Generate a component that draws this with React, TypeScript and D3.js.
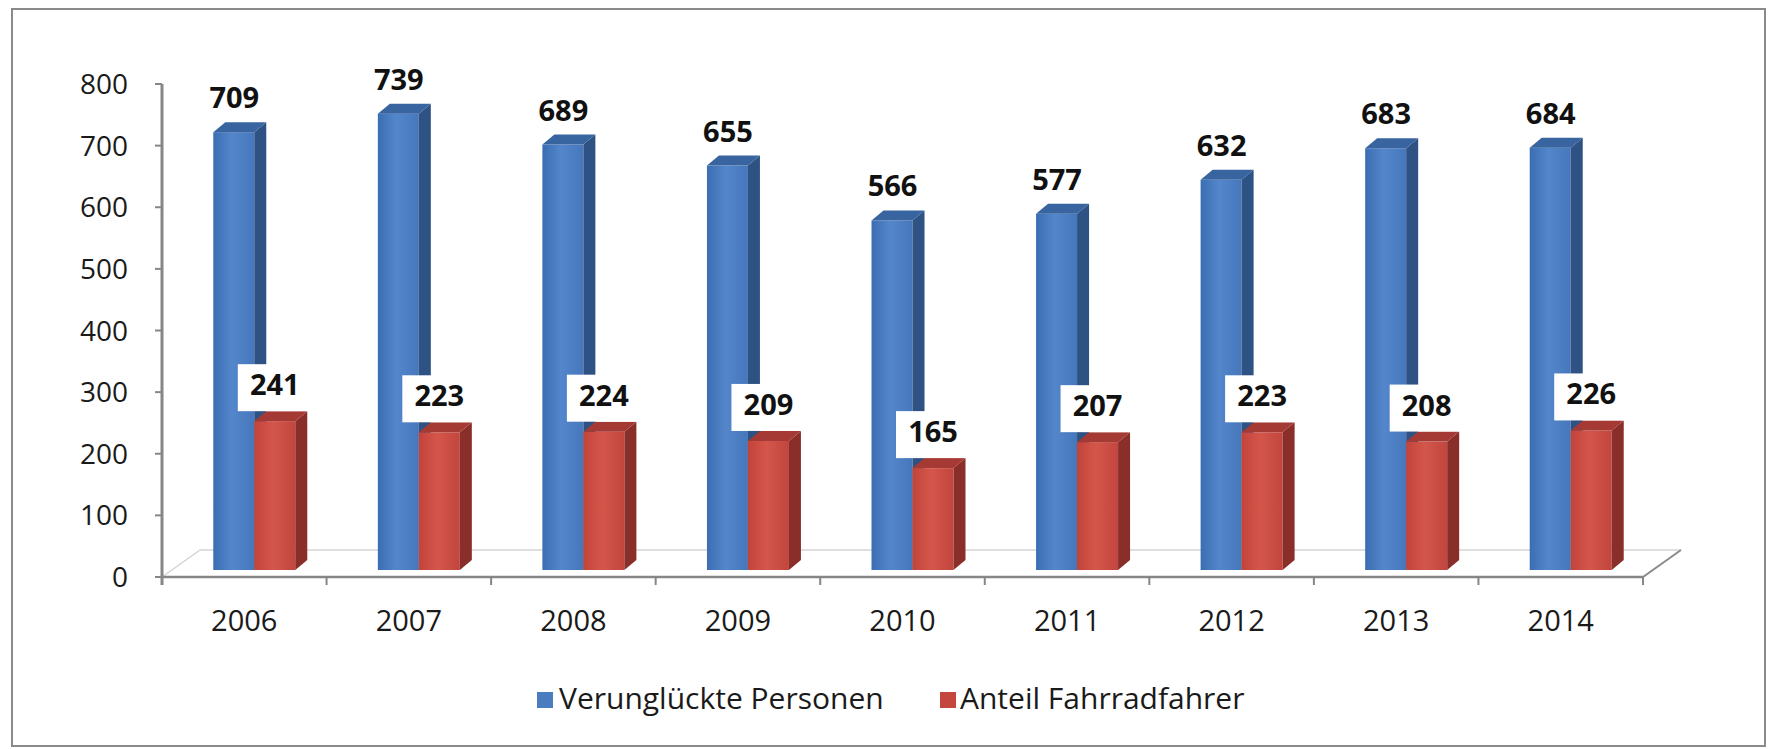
import React from 'react';
import * as d3 from 'd3';

const years = ['2006', '2007', '2008', '2009', '2010', '2011', '2012', '2013', '2014'];
const verunglueckte = [709, 739, 689, 655, 566, 577, 632, 683, 684];
const fahrradfahrer = [241, 223, 224, 209, 165, 207, 223, 208, 226];
const yTicks = [0, 100, 200, 300, 400, 500, 600, 700, 800];
const seriesNames = ['Verunglückte Personen', 'Anteil Fahrradfahrer'];

const W = 1769;
const H = 749;
const FONT = '"Open Sans", "DejaVu Sans", sans-serif';

// 3d look: floor depth and bar depth
const floorDx = 38, floorDy = 27;
const barDx = 12, barDy = 10;

export default function App() {
    const x = d3.scaleBand<string>().domain(years).range([162, 1643]).padding(0);
    const yAxis = d3.scaleLinear().domain([0, 800]).range([577, 84]);
    // bars stand a bit further back than the axis plane
    const yBar = d3.scaleLinear().domain([0, 800]).range([570, 76]);
    const bw = x.bandwidth();

    const box = (x0: number, w: number, v: number, front: string, side: string, top: string, key: string) => {
        const y0 = yBar(0);
        const y1 = yBar(v);
        return (
            <g key={key}>
                <rect x={x0} y={y1} width={w} height={y0 - y1} fill={front} />
                <polygon points={`${x0 + w},${y1} ${x0 + w + barDx},${y1 - barDy} ${x0 + w + barDx},${y0 - barDy} ${x0 + w},${y0}`} fill={side} />
                <polygon points={`${x0},${y1} ${x0 + barDx},${y1 - barDy} ${x0 + w + barDx},${y1 - barDy} ${x0 + w},${y1}`} fill={top} />
            </g>
        );
    };

    return (
        <svg width={W} height={H} style={{ position: 'absolute', left: 0, top: 0, background: '#fff' }}>
            <defs>
                <linearGradient id="gBlue" x1="0" x2="1" y1="0" y2="0">
                    <stop offset="0" stopColor="#3b6db3" />
                    <stop offset="0.45" stopColor="#5486cc" />
                    <stop offset="1" stopColor="#4677bb" />
                </linearGradient>
                <linearGradient id="gRed" x1="0" x2="1" y1="0" y2="0">
                    <stop offset="0" stopColor="#c2433a" />
                    <stop offset="0.45" stopColor="#d4564b" />
                    <stop offset="1" stopColor="#c2463e" />
                </linearGradient>
            </defs>

            <rect x={12} y={9} width={1753} height={737} fill="#fff" stroke="#8a8a8a" strokeWidth={2} />

            {/* floor */}
            <line x1={162 + floorDx} y1={577 - floorDy} x2={1643 + floorDx} y2={577 - floorDy} stroke="#d4d4d4" strokeWidth={1.5} />
            <line x1={162} y1={577} x2={162 + floorDx} y2={577 - floorDy} stroke="#d4d4d4" strokeWidth={1.5} />
            <line x1={1643} y1={577} x2={1643 + floorDx} y2={577 - floorDy} stroke="#8a8a8a" strokeWidth={2} />

            {/* y axis */}
            <line x1={162} y1={yAxis(800)} x2={162} y2={585} stroke="#868686" strokeWidth={3} />
            {yTicks.map(t => (
                <g key={t}>
                    <line x1={155} x2={162} y1={yAxis(t)} y2={yAxis(t)} stroke="#868686" strokeWidth={2} />
                    <text x={128} y={yAxis(t)} dy="0.36em" textAnchor="end" fontFamily={FONT} fontSize={28} fill="#1a1a1a">{t}</text>
                </g>
            ))}

            {/* x axis */}
            <line x1={162} y1={577} x2={1643} y2={577} stroke="#868686" strokeWidth={2.5} />
            {years.map(yr => (
                <line key={yr} x1={(x(yr) as number) + bw} x2={(x(yr) as number) + bw} y1={577} y2={585} stroke="#868686" strokeWidth={2} />
            ))}
            {years.map(yr => (
                <text key={yr} x={(x(yr) as number) + bw / 2} y={631} textAnchor="middle" fontFamily={FONT} fontSize={29} fill="#1a1a1a">{yr}</text>
            ))}

            {/* bars */}
            {years.map((yr, i) => {
                const c = (x(yr) as number) + bw / 2;
                return (
                    <g key={yr}>
                        {box(c - 31, 41, verunglueckte[i], 'url(#gBlue)', '#2d5283', '#3864a0', 'b' + yr)}
                        {box(c + 10, 41, fahrradfahrer[i], 'url(#gRed)', '#8a2e2a', '#a53a34', 'r' + yr)}
                    </g>
                );
            })}

            {/* labels */}
            {years.map((yr, i) => {
                const c = (x(yr) as number) + bw / 2;
                const bTop = yBar(verunglueckte[i]) - barDy;
                const rTop = yBar(fahrradfahrer[i]) - barDy;
                const rc = c + 30.5;
                return (
                    <g key={yr}>
                        <text x={c - 10} y={bTop - 14} textAnchor="middle" fontFamily={FONT} fontSize={29} fontWeight="bold" fill="#111">{verunglueckte[i]}</text>
                        <rect x={rc - 37} y={rTop - 47} width={74} height={47} fill="#fff" />
                        <text x={rc} y={rTop - 16} textAnchor="middle" fontFamily={FONT} fontSize={29} fontWeight="bold" fill="#111">{fahrradfahrer[i]}</text>
                    </g>
                );
            })}

            {/* legend */}
            <rect x={537} y={692} width={16} height={16} fill="#4a7cbf" />
            <text x={559} y={709} fontFamily={FONT} fontSize={30} fill="#1a1a1a">{seriesNames[0]}</text>
            <rect x={940} y={692} width={16} height={16} fill="#c4463e" />
            <text x={960} y={709} fontFamily={FONT} fontSize={30} fill="#1a1a1a">{seriesNames[1]}</text>
        </svg>
    );
}
